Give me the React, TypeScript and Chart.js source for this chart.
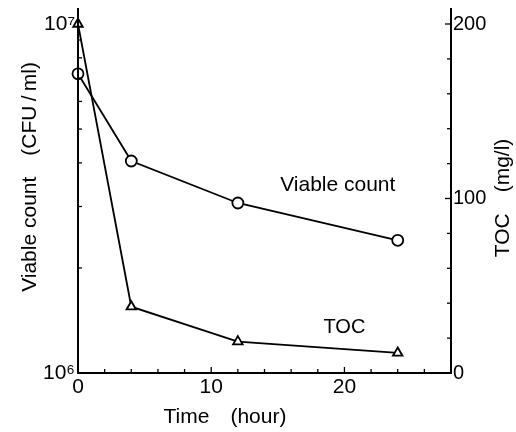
import React, { useEffect, useRef } from "react";
import { Chart, registerables } from "chart.js";

Chart.register(...registerables);

// ---- data ----
const timeHours = [0, 4, 12, 24];
const viableCount = [7.2e6, 4.05e6, 3.07e6, 2.4e6];
const tocValues = [200, 38, 18, 11.5];

const xTickValues = [0, 10, 20];
const xMinorTicks = [2, 4, 6, 8, 10, 12, 14, 16, 18, 20, 22, 24, 26];
const leftTickValues = [1e6, 1e7];
const leftTickLabels = ["10\u2076", "10\u2077"];
const leftMinorTicks = [2e6, 3e6, 4e6, 5e6, 6e6, 7e6, 8e6, 9e6];
const rightTickValues = [0, 100, 200];
const rightMinorTicks = [20, 40, 60, 80, 100, 120, 140, 160, 180, 200];

const FONT = "'Liberation Sans', Arial, Helvetica, sans-serif";

const framePlugin = {
  id: "frame",
  afterDraw(chart: any) {
    const { ctx, chartArea, scales } = chart;
    const { left, right, top, bottom } = chartArea;
    const x = scales.x, y = scales.y, y1 = scales.y1;
    ctx.save();
    ctx.strokeStyle = "#000";
    ctx.lineCap = "butt";
    ctx.lineWidth = 2;
    ctx.beginPath();
    ctx.moveTo(left, top - 16);
    ctx.lineTo(left, bottom);
    ctx.lineTo(right, bottom);
    ctx.lineTo(right, top - 16);
    ctx.stroke();

    ctx.lineWidth = 1.3;
    const seg = (a: number, b: number, c: number, d: number) => {
      ctx.beginPath();
      ctx.moveTo(a, b);
      ctx.lineTo(c, d);
      ctx.stroke();
    };
    for (const v of xMinorTicks) {
      const px = x.getPixelForValue(v);
      seg(px, bottom, px, bottom - (v % 10 === 0 ? 6 : 4));
    }
    for (const v of leftMinorTicks) {
      const py = y.getPixelForValue(v);
      seg(left, py, left + 4, py);
    }
    for (const v of rightMinorTicks) {
      const py = y1.getPixelForValue(v);
      seg(right - (v % 100 === 0 ? 6 : 4), py, right, py);
    }

    ctx.fillStyle = "#000";
    ctx.font = `21px ${FONT}`;
    ctx.textBaseline = "alphabetic";
    ctx.textAlign = "center";
    // annotations
    ctx.fillText("Viable count", x.getPixelForValue(19.5), y.getPixelForValue(3.32e6));
    ctx.font = `20px ${FONT}`;
    ctx.fillText("TOC", x.getPixelForValue(20), y1.getPixelForValue(23));

    ctx.font = `21px ${FONT}`;
    // x title
    ctx.textBaseline = "middle";
    ctx.fillText("Time\u2003(hour)", 225, 417);

    // left title
    ctx.save();
    ctx.translate(30, 177);
    ctx.rotate(-Math.PI / 2);
    ctx.fillText("Viable count\u2003(CFU\u2009/\u2009ml)", 0, 0);
    ctx.restore();

    // right title
    ctx.save();
    ctx.translate(503, 198);
    ctx.rotate(-Math.PI / 2);
    ctx.fillText("TOC\u2003(mg/l)", 0, 0);
    ctx.restore();

    ctx.restore();
  },
};

export default function App() {
  const ref = useRef<HTMLCanvasElement>(null);
  useEffect(() => {
    if (!ref.current) return;
    const chart = new Chart(ref.current, {
      type: "scatter",
      data: {
        datasets: [
          {
            label: "Viable count",
            data: timeHours.map((t, i) => ({ x: t, y: viableCount[i] })),
            yAxisID: "y",
            showLine: true,
            borderColor: "#000",
            borderWidth: 1.8,
            pointStyle: "circle",
            pointRadius: 5.5,
            pointBackgroundColor: "#fff",
            pointBorderColor: "#000",
            pointBorderWidth: 1.8,
            clip: false,
          },
          {
            label: "TOC",
            data: timeHours.map((t, i) => ({ x: t, y: tocValues[i] })),
            yAxisID: "y1",
            showLine: true,
            borderColor: "#000",
            borderWidth: 1.8,
            pointStyle: "triangle",
            pointRadius: 5.5,
            pointBackgroundColor: "#fff",
            pointBorderColor: "#000",
            pointBorderWidth: 1.8,
            clip: false,
          },
        ],
      },
      options: {
        animation: false,
        responsive: true,
        maintainAspectRatio: false,
        layout: { padding: { top: 24, left: 0, right: 0, bottom: 0 } },
        plugins: { legend: { display: false }, tooltip: { enabled: false }, title: { display: false } },
        scales: {
          x: {
            type: "linear",
            min: 0,
            max: 28,
            grid: { display: false, drawTicks: false },
            border: { display: false },
            afterBuildTicks: (s: any) => {
              s.ticks = xTickValues.map((v) => ({ value: v }));
            },
            afterFit: (s: any) => {
              s.height = 59;
            },
            ticks: {
              padding: 2,
              color: "#000",
              font: { family: FONT, size: 21 },
              callback: (v: any) => String(v),
            },
          },
          y: {
            type: "logarithmic",
            position: "left",
            min: 1e6,
            max: 1e7,
            grid: { display: false, drawTicks: false },
            border: { display: false },
            afterBuildTicks: (s: any) => {
              s.ticks = leftTickValues.map((v) => ({ value: v }));
            },
            afterFit: (s: any) => {
              s.width = 78;
            },
            ticks: {
              padding: 3,
              color: "#000",
              font: { family: FONT, size: 21 },
              callback: (v: any) => {
                const i = leftTickValues.indexOf(Number(v));
                return i >= 0 ? leftTickLabels[i] : "";
              },
            },
          },
          y1: {
            type: "linear",
            position: "right",
            min: 0,
            max: 200,
            grid: { display: false, drawTicks: false },
            border: { display: false },
            afterBuildTicks: (s: any) => {
              s.ticks = rightTickValues.map((v) => ({ value: v }));
            },
            afterFit: (s: any) => {
              s.width = 65;
            },
            ticks: {
              padding: 2,
              color: "#000",
              font: { family: FONT, size: 20 },
              callback: (v: any) => String(v),
            },
          },
        },
      },
      plugins: [framePlugin],
    } as any);
    return () => chart.destroy();
  }, []);

  return (
    <div style={{ position: "fixed", left: 0, top: 0, width: 516, height: 432, background: "#fff" }}>
      <canvas ref={ref} />
    </div>
  );
}
